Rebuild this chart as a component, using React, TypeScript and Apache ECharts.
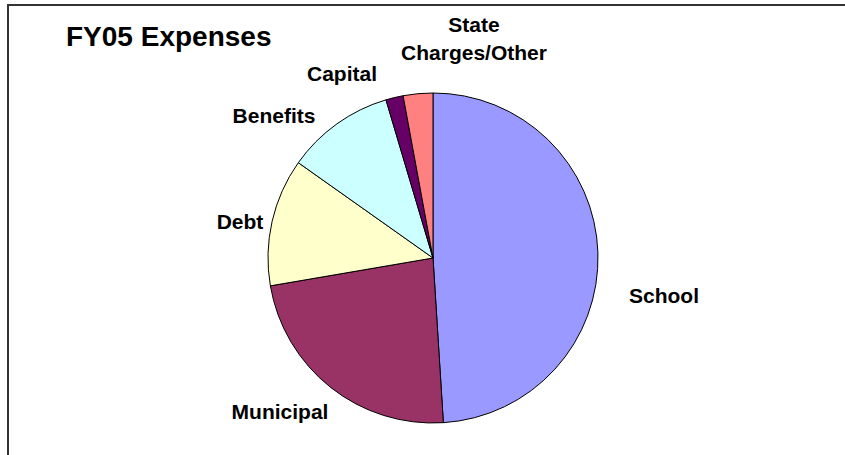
import React, { useEffect, useRef } from "react";
import * as echarts from "echarts";

const categories = ["School", "Municipal", "Debt", "Benefits", "Capital", "State\nCharges/Other"];
const values = [49.0, 23.3, 12.5, 10.6, 1.7, 2.9];
const colors = ["#9999FF", "#993366", "#FFFFCC", "#CCFFFF", "#660066", "#FF8080"];
// label centre positions (pixels) as placed in the original
const labelCenters: [number, number][] = [
  [664, 295],
  [280, 411],
  [240, 221],
  [274, 115],
  [342, 73],
  [474, 38],
];

export default function App() {
  const ref = useRef<HTMLDivElement>(null);
  useEffect(() => {
    if (!ref.current) return;
    const chart = echarts.init(ref.current, undefined, { renderer: "svg" });
    const font = 'Arial, "Liberation Sans", sans-serif';
    chart.setOption({
      animation: false,
      backgroundColor: "#ffffff",
      title: {
        text: "FY05 Expenses",
        left: 61,
        top: 17,
        textStyle: { fontFamily: font, fontWeight: "bold", fontSize: 28, color: "#000" },
      },
      graphic: [
        {
          type: "rect",
          shape: { x: 8, y: 5, width: 900, height: 600 },
          style: { fill: "none", stroke: "#333", lineWidth: 2 },
          silent: true,
        },
      ],
      series: [
        {
          type: "pie",
          center: [433, 258],
          radius: 165,
          startAngle: 90,
          clockwise: true,
          avoidLabelOverlap: false,
          itemStyle: { borderColor: "#000", borderWidth: 1 },
          label: {
            show: true,
            position: "outside",
            fontFamily: font,
            fontWeight: "bold",
            fontSize: 21,
            color: "#000",
            lineHeight: 28,
            align: "center",
          },
          labelLine: { show: false },
          labelLayout: (params: any) => {
            const p = labelCenters[params.dataIndex];
            return { x: p[0], y: p[1], align: "center", verticalAlign: "middle" };
          },
          emphasis: { disabled: true },
          data: categories.map((c, i) => ({
            name: c,
            value: values[i],
            itemStyle: { color: colors[i] },
          })),
        },
      ],
    });
    return () => chart.dispose();
  }, []);
  return (
    <div
      ref={ref}
      style={{ position: "fixed", left: 0, top: 0, width: 845, height: 455 }}
    />
  );
}
